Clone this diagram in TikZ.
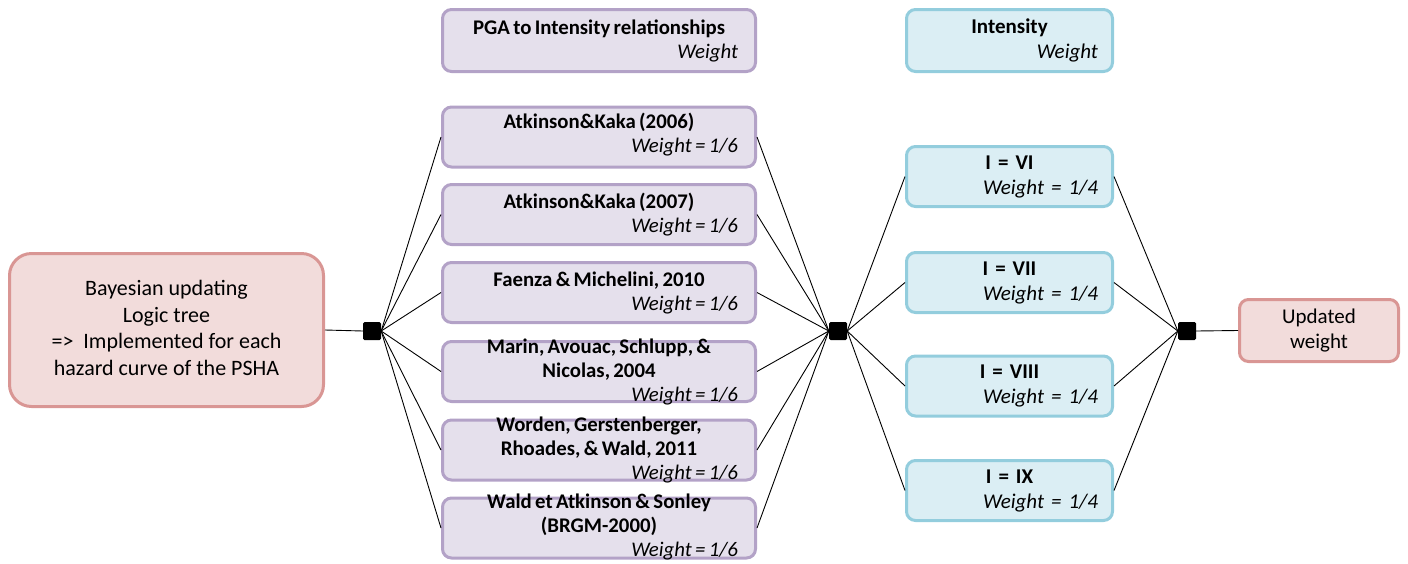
\documentclass[tikz,border=0pt]{standalone}
\usepackage{fontspec}
\setmainfont{Carlito}
\definecolor{pinkfill}{HTML}{F2DCDB}
\definecolor{pinkline}{HTML}{D99694}
\definecolor{purfill}{HTML}{E5E0EC}
\definecolor{purline}{HTML}{B3A2C7}
\definecolor{bluefill}{HTML}{DBEEF4}
\definecolor{blueline}{HTML}{93CDDD}
\newcommand{\rwt}[2]{\makebox[#1][r]{\itshape #2}}
\newcommand{\tightsp}{\spaceskip=0.16em\relax}
\begin{document}
\begin{tikzpicture}[x=1pt,y=-1pt,
  base/.style={line width=3pt, rounded corners=9pt, inner sep=0pt},
  pinkbox/.style={base, draw=pinkline, fill=pinkfill},
  purbox/.style={base, draw=purline, fill=purfill, minimum width=313pt, minimum height=60pt},
  bluebox/.style={base, draw=blueline, fill=bluefill, minimum width=206pt, minimum height=60pt},
  junc/.style={fill=black, minimum size=18pt, inner sep=0pt, rounded corners=1.5pt},
  link/.style={line width=0.9pt},
  ptxt/.style={inner sep=0pt, text width=278pt, align=center, font=\fontsize{20.8}{24}\selectfont},
  btxt/.style={inner sep=0pt, text width=177pt, align=center, font=\fontsize{21}{25}\selectfont},
  mtxt/.style={inner sep=0pt, align=center, font=\fontsize{22}{26.5}\selectfont},
]
\useasboundingbox (0,0) rectangle (1408,563);

% left main box
\node[pinkbox, rounded corners=22pt, minimum width=314pt, minimum height=153pt] (main) at (166.5,330) {};
\node[mtxt] (maint) at ([yshift=2pt]main.center) {Bayesian updating\\Logic tree\\=>\ \ Implemented for each\\hazard curve of the PSHA};

% junctions
\node[junc] (j1) at (372,331) {};
\node[junc] (j2) at (838,331) {};
\node[junc] (j3) at (1187,331) {};

% purple column
\node[purbox, minimum height=62pt] (ph) at (599,40.5) {};
\node[ptxt] (pht) at (ph.center) {\tightsp\textbf{PGA to Intensity relationships}\\\rwt{278pt}{Weight}};
\node[purbox] (p1) at (599,137) {};
\node[ptxt] (p1t) at ([yshift=2pt]p1.center) {\tightsp\textbf{Atkinson\&Kaka (2006)}\\\rwt{278pt}{Weight = 1/6}};
\node[purbox] (p2) at (599,214.5) {};
\node[ptxt] (p2t) at (p2.center) {\tightsp\textbf{Atkinson\&Kaka (2007)}\\\rwt{278pt}{Weight = 1/6}};
\node[purbox] (p3) at (599,292.5) {};
\node[ptxt] (p3t) at (p3.center) {\tightsp\textbf{Faenza \& Michelini, 2010}\\\rwt{278pt}{Weight = 1/6}};
\node[purbox] (p4) at (599,371.5) {};
\node[ptxt] (p4t) at (p4.center) {\tightsp\textbf{Marin, Avouac, Schlupp, \&}\\\textbf{Nicolas, 2004}\\\rwt{278pt}{Weight = 1/6}};
\node[purbox] (p5) at (599,450) {};
\node[ptxt] (p5t) at (p5.center) {\tightsp\textbf{Worden, Gerstenberger,}\\\textbf{Rhoades, \& Wald, 2011}\\\rwt{278pt}{Weight = 1/6}};
\node[purbox] (p6) at (599,528) {};
\node[ptxt] (p6t) at ([yshift=1pt]p6.center) {\tightsp\textbf{Wald et Atkinson \& Sonley}\\\textbf{(BRGM-2000)}\\\rwt{278pt}{Weight = 1/6}};

% blue column
\node[bluebox, minimum height=62pt] (bh) at (1009.5,40.5) {};
\node[btxt] (bht) at (bh.center) {\textbf{Intensity}\\\rwt{177pt}{Weight}};
\node[bluebox] (b1) at (1009.5,176.5) {};
\node[btxt] (b1t) at (b1.center) {\textbf{I = VI}\\\rwt{177pt}{Weight = 1/4}};
\node[bluebox] (b2) at (1009.5,282.5) {};
\node[btxt] (b2t) at (b2.center) {\textbf{I = VII}\\\rwt{177pt}{Weight = 1/4}};
\node[bluebox] (b3) at (1009.5,386) {};
\node[btxt] (b3t) at (b3.center) {\textbf{I = VIII}\\\rwt{177pt}{Weight = 1/4}};
\node[bluebox] (b4) at (1009.5,490.5) {};
\node[btxt] (b4t) at (b4.center) {\textbf{I = IX}\\\rwt{177pt}{Weight = 1/4}};

% result box
\node[pinkbox, minimum width=159pt, minimum height=62pt] (up) at (1319,330.5) {};
\node[mtxt, font=\fontsize{21}{25}\selectfont] (upt) at (up.center) {Updated\\weight};

% connectors
\draw[link] (main.east) -- (j1.west);
\foreach \k in {1,...,6}{
  \draw[link] (j1.east) -- (p\k.west);
  \draw[link] (p\k.east) -- (j2.west);
}
\foreach \k in {1,...,4}{
  \draw[link] (j2.east) -- (b\k.west);
  \draw[link] (b\k.east) -- (j3.west);
}
\draw[link] (j3.east) -- (up.west);
\end{tikzpicture}
\end{document}
